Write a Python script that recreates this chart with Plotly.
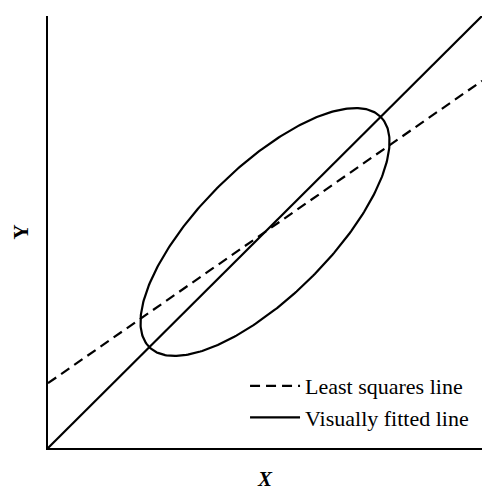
import numpy as np
import plotly.graph_objects as go

# Line definitions (intercept, slope) and shared x span
x_span = [0.0, 10.0]
ls_intercept, ls_slope = 1.5, 0.7        # least squares line
vf_intercept, vf_slope = 0.0, 1.0        # visually fitted line

# Scatter ellipse: centre, semi-axes, rotation (degrees)
ell_center = (5.0, 5.0)
ell_axes = (3.77, 1.5)
ell_angle = 45.0

xs = np.array(x_span)
ls_y = ls_intercept + ls_slope * xs
vf_y = vf_intercept + vf_slope * xs

t = np.linspace(0, 2 * np.pi, 361)
th = np.deg2rad(ell_angle)
a, b = ell_axes
ex = ell_center[0] + a * np.cos(t) * np.cos(th) - b * np.sin(t) * np.sin(th)
ey = ell_center[1] + a * np.cos(t) * np.sin(th) + b * np.sin(t) * np.cos(th)

serif = "Liberation Serif, Times New Roman, serif"

fig = go.Figure()
fig.add_trace(go.Scatter(x=ex, y=ey, mode="lines", line=dict(color="black", width=2.2),
                         showlegend=False, hoverinfo="skip"))
fig.add_trace(go.Scatter(x=xs, y=ls_y, mode="lines", name="Least squares line",
                         line=dict(color="black", width=2.2, dash="10px,6px")))
fig.add_trace(go.Scatter(x=xs, y=vf_y, mode="lines", name="Visually fitted line",
                         line=dict(color="black", width=2.2)))

fig.update_layout(
    width=482, height=497,
    margin=dict(l=48, r=0, t=16, b=49),
    paper_bgcolor="white", plot_bgcolor="white",
    font=dict(family=serif, color="black", size=17),
    legend=dict(x=0.454, y=0.192, xanchor="left", yanchor="top",
                bgcolor="rgba(0,0,0,0)", tracegroupgap=0,
                font=dict(family=serif, size=22), itemwidth=50),
    xaxis=dict(range=[0, 10], showgrid=False, zeroline=False, showticklabels=False,
               ticks="", showline=True, linecolor="black", linewidth=2,
               title=dict(text="<i><b>X</b></i>", standoff=22,
                          font=dict(family=serif, size=21))),
    yaxis=dict(range=[0, 10], showgrid=False, zeroline=False, showticklabels=False,
               ticks="", showline=True, linecolor="black", linewidth=2,
               title=dict(text="<b>Y</b>", standoff=12,
                          font=dict(family=serif, size=21))),
)

fig.write_html("out.html")
